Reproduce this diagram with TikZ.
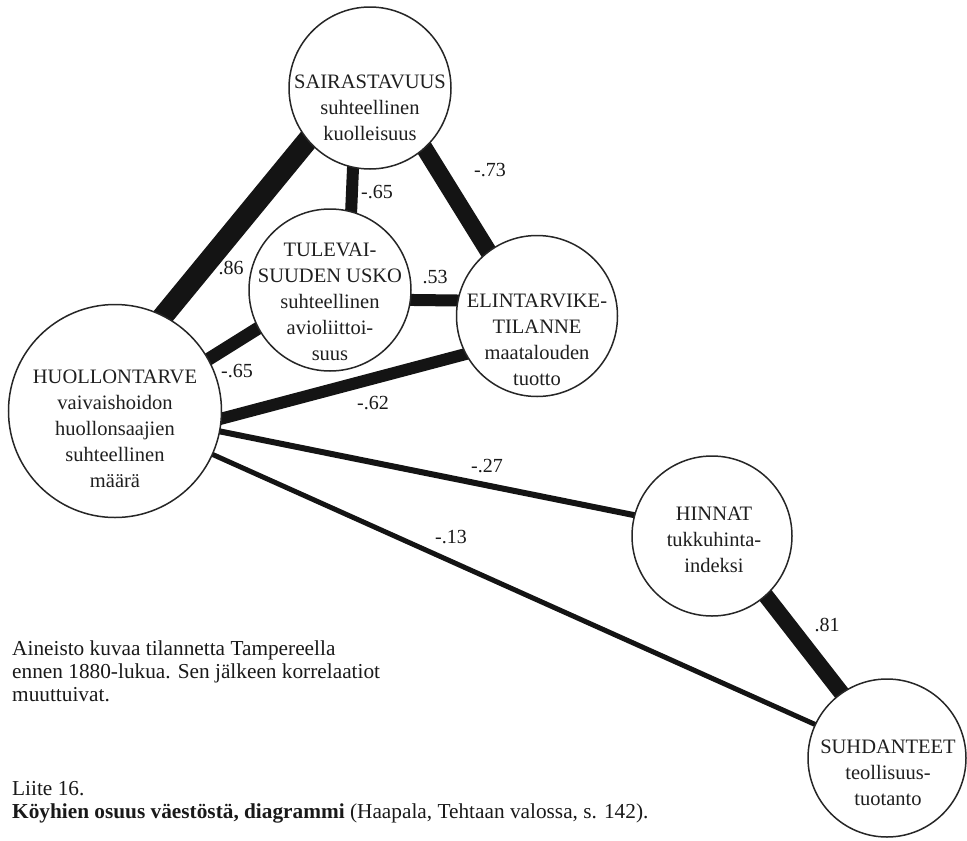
\documentclass[tikz,border=0pt]{standalone}
\usepackage{fontspec}
\setmainfont{Liberation Serif}
\usetikzlibrary{backgrounds}
\begin{document}
\begin{tikzpicture}[x=1pt,y=-1pt,
  circ/.style={circle,draw=black!85,line width=1.5pt,fill=white,inner sep=0pt},
  ntext/.style={align=center,font=\fontsize{20.5}{26}\selectfont,text=black!88,inner sep=0pt},
  lbl/.style={font=\fontsize{20}{24}\selectfont,inner sep=0pt,text=black!90},
  body/.style={anchor=west,font=\fontsize{21.3}{23}\selectfont,inner sep=0pt,text=black!90},
  conn/.style={draw=black!92,shorten <=-8pt,shorten >=-8pt}]
\useasboundingbox (0,0) rectangle (967,841);

% circles
\node[circ,minimum size=162pt] (sair) at (370,88) {};
\node[circ,minimum size=162pt] (tule) at (330,290) {};
\node[circ,minimum size=161pt] (elin) at (537,316) {};
\node[circ,minimum size=213pt] (huol) at (115,411) {};
\node[circ,minimum size=160pt] (hinn) at (712,536) {};
\node[circ,minimum size=158pt] (suhd) at (887,758) {};

% texts
\node[ntext] (sairT) at (370,108) {SAIRASTAVUUS\\suhteellinen\\kuolleisuus};
\node[ntext] (tuleT) at (330,302) {TULEVAI-\\SUUDEN USKO\\suhteellinen\\avioliittoi-\\suus};
\node[ntext] (elinT) at (537,340) {ELINTARVIKE-\\TILANNE\\maatalouden\\tuotto};
\node[ntext] (huolT) at (115,429) {HUOLLONTARVE\\vaivaishoidon\\huollonsaajien\\suhteellinen\\määrä};
\node[ntext] (hinnT) at (714,540) {HINNAT\\tukkuhinta-\\indeksi};
\node[ntext] (suhdT) at (888,773) {SUHDANTEET\\teollisuus-\\tuotanto};

% connectors
\begin{scope}[on background layer]
\draw[conn,line width=21pt] (huol.63) -- (sair.220.5);
\draw[conn,line width=12pt] (sair.258) -- (tule.75);
\draw[conn,line width=17pt] (sair.-48) -- (elin.127);
\draw[conn,line width=12pt] (tule.-7) -- (elin.169);
\draw[conn,line width=13pt] (huol.29) -- (tule.208);
\draw[conn,line width=12pt] (huol.-4) -- (elin.-152);
\draw[conn,line width=6pt] (huol.-11) -- (hinn.165);
\draw[conn,line width=5pt] (huol.-24) -- (suhd.155);
\draw[conn,line width=16pt] (hinn.-48) -- (suhd.125);
\end{scope}

% labels
\node[lbl] (l86) at (231,268) {.86};
\node[lbl] (l65a) at (377,192) {-.65};
\node[lbl] (l73) at (490,170) {-.73};
\node[lbl] (l53) at (435,277) {.53};
\node[lbl] (l65b) at (237,371) {-.65};
\node[lbl] (l62) at (373,403) {-.62};
\node[lbl] (l27) at (487,466) {-.27};
\node[lbl] (l13) at (451,537) {-.13};
\node[lbl] (l81) at (827,625) {.81};

% notes
\node[body,align=left,anchor=north west] (note) at (12,641) {Aineisto kuvaa tilannetta Tampereella\\ennen 1880-lukua. Sen jälkeen korrelaatiot\\muuttuivat.};
\node[body] (liite) at (12,789) {Liite 16.};
\node[body] (capt) at (12,813) {\textbf{Köyhien osuus väestöstä, diagrammi} (Haapala, Tehtaan valossa, s. 142).};
\end{tikzpicture}
\end{document}
